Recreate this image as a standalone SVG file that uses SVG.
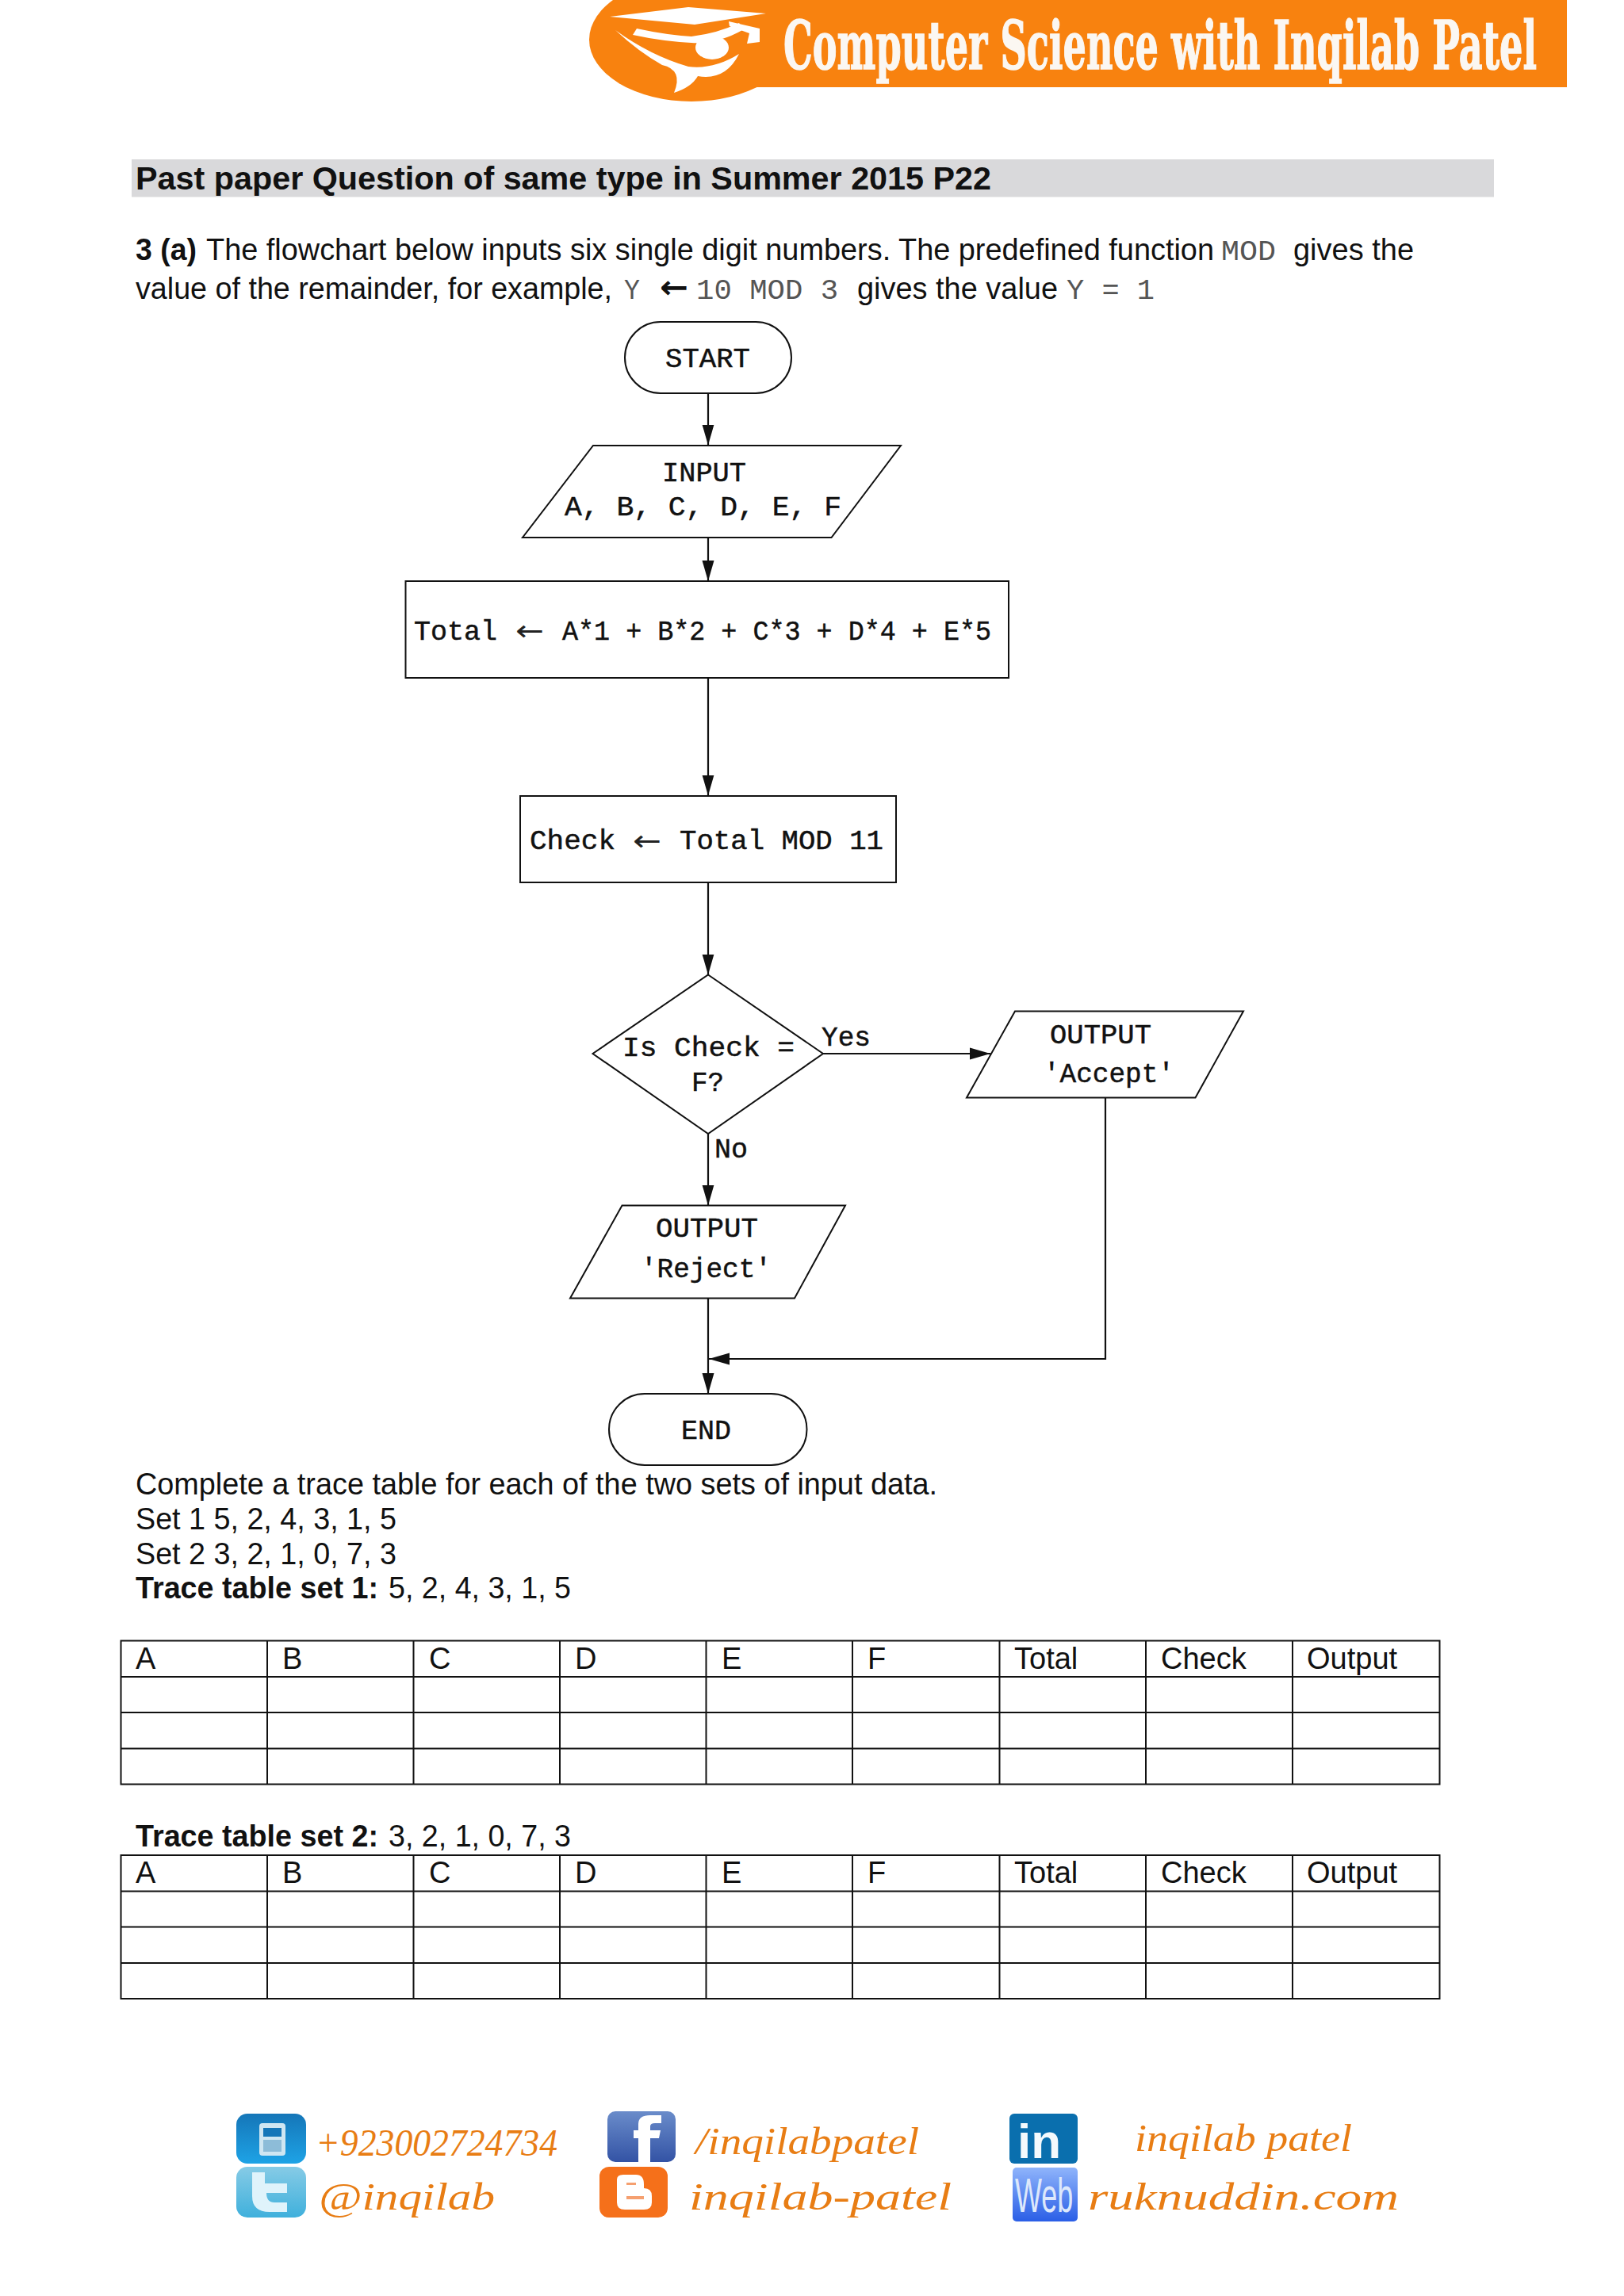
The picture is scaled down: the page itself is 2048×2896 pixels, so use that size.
<svg xmlns="http://www.w3.org/2000/svg" width="2048" height="2896" viewBox="0 0 2048 2896">
<style>
.s{font-family:"Liberation Sans",Arial,sans-serif;font-size:38px;fill:#111}
.b{font-weight:bold}
.m{font-family:"Liberation Mono","Courier New",monospace;font-size:35.5px;fill:#111;stroke:#111;stroke-width:.5}
.a{font-family:"DejaVu Sans",sans-serif;font-size:36px;fill:#222}
.c{font-family:"Liberation Mono","Courier New",monospace;font-size:36px;fill:#555}
.o{fill:#fff;stroke:#111;stroke-width:2}
.l{fill:none;stroke:#111;stroke-width:2.2}
.g{fill:none;stroke:#111;stroke-width:2}
.f{font-family:"Liberation Serif","Times New Roman",serif;font-style:italic;font-size:48px;fill:#e87d14}
</style>
<defs>
<marker id="ah" markerUnits="userSpaceOnUse" markerWidth="27" markerHeight="16" refX="26" refY="8" orient="auto"><path d="M0 0.5L26 8L0 15.500z" fill="#111"/></marker>
<linearGradient id="gb" x1="0" y1="0" x2="0" y2="1"><stop offset="0" stop-color="#1576b8"/><stop offset="1" stop-color="#1ea3e6"/></linearGradient>
<linearGradient id="gt" x1="0" y1="0" x2="0" y2="1"><stop offset="0" stop-color="#86cbe6"/><stop offset="1" stop-color="#3fb0dc"/></linearGradient>
<linearGradient id="gf" x1="0" y1="0" x2="0" y2="1"><stop offset="0" stop-color="#6a8cca"/><stop offset="1" stop-color="#3353a5"/></linearGradient>
<linearGradient id="gw" x1="0" y1="0" x2="0" y2="1"><stop offset="0" stop-color="#8fb4fb"/><stop offset="1" stop-color="#2a5ee6"/></linearGradient>
</defs>
<rect width="2048" height="2896" fill="#fff"/>
<g id="banner">
<ellipse cx="872" cy="50" rx="129" ry="78" fill="#f8820f"/>
<rect x="860" y="0" width="1116" height="110" fill="#f8820f"/>
<path d="M769 21L868 9L966 17L876 31z" fill="#fff"/>
<path d="M919 27L958 36L958 53L942 55L945 42L920 33z" fill="#fff"/>
<path d="M803 36Q840 44 872 46Q905 42 932 29L938 37Q905 56 872 54Q835 52 798 44z" fill="#fff"/>
<ellipse cx="898" cy="60" rx="21" ry="15" fill="#fff"/>
<path d="M776 38Q820 70 868 84Q900 88 932 68Q915 102 880 96Q872 110 850 117Q862 88 835 82Q805 65 776 38z" fill="#fff"/>
<text transform="translate(988 87) scale(.5 1)" x="0" y="0" font-family="DejaVu Serif,serif" font-weight="bold" font-size="84" fill="#fbf7f2" stroke="#fbf7f2" stroke-width="1.500" textLength="1900" lengthAdjust="spacingAndGlyphs">Computer Science with Inqilab Patel</text>
</g>
<g id="intro">
<rect x="166" y="201" width="1718" height="47.500" fill="#d9d9db"/>
<text class="s b" x="171" y="239" style="font-size:41px" textLength="1079" lengthAdjust="spacingAndGlyphs">Past paper Question of same type in Summer 2015 P22</text>
<text class="s b" x="171" y="328" textLength="77" lengthAdjust="spacingAndGlyphs">3 (a)</text>
<text class="s" x="260" y="328" textLength="1271" lengthAdjust="spacingAndGlyphs">The flowchart below inputs six single digit numbers. The predefined function</text>
<text class="c" x="1540" y="328" textLength="69" lengthAdjust="spacingAndGlyphs">MOD</text>
<text class="s" x="1631" y="328" textLength="152" lengthAdjust="spacingAndGlyphs">gives the</text>
<text class="s" x="171" y="377" textLength="601" lengthAdjust="spacingAndGlyphs">value of the remainder, for example,</text>
<text class="c" x="787" y="377" textLength="20" lengthAdjust="spacingAndGlyphs">Y</text>
<text x="832" y="376" font-family="DejaVu Sans,sans-serif" font-weight="bold" font-size="40" fill="#111" textLength="36" lengthAdjust="spacingAndGlyphs">←</text>
<text class="c" x="878" y="377" textLength="179" lengthAdjust="spacingAndGlyphs">10 MOD 3</text>
<text class="s" x="1081" y="377" textLength="253" lengthAdjust="spacingAndGlyphs">gives the value</text>
<text class="c" x="1345" y="377" textLength="111" lengthAdjust="spacingAndGlyphs">Y = 1</text>
</g>
<g id="connectors">
<path class="l" d="M893 496V561.500" marker-end="url(#ah)"/>
<path class="l" d="M893 678V733" marker-end="url(#ah)"/>
<path class="l" d="M893 855V1003.500" marker-end="url(#ah)"/>
<path class="l" d="M893 1113V1229.500" marker-end="url(#ah)"/>
<path class="l" d="M893 1430V1520.500" marker-end="url(#ah)"/>
<path class="l" d="M1038 1329H1249" marker-end="url(#ah)"/>
<path class="l" d="M893 1637.500V1758" marker-end="url(#ah)"/>
<path class="l" d="M1394 1384.500V1714H894" marker-end="url(#ah)"/>
</g>
<g id="start"><rect class="o" x="788" y="406" width="210" height="90" rx="45" ry="45"/><text class="m" x="839" y="463" textLength="107" lengthAdjust="spacingAndGlyphs">START</text></g>
<g id="input"><path class="o" d="M748 562H1136L1048.500 678H659z"/><text class="m" x="835" y="607" textLength="106" lengthAdjust="spacingAndGlyphs">INPUT</text><text class="m" x="712" y="650" textLength="349" lengthAdjust="spacingAndGlyphs">A, B, C, D, E, F</text></g>
<g id="total"><rect class="o" x="511.500" y="733" width="760.500" height="122"/><text class="m" x="522" y="807" textLength="105" lengthAdjust="spacingAndGlyphs">Total</text><text class="a" x="650" y="808" textLength="36" lengthAdjust="spacingAndGlyphs">←</text><text class="m" x="709" y="807" textLength="541" lengthAdjust="spacingAndGlyphs">A*1 + B*2 + C*3 + D*4 + E*5</text></g>
<g id="check"><rect class="o" x="656" y="1004" width="474" height="109"/><text class="m" x="668" y="1071" textLength="108" lengthAdjust="spacingAndGlyphs">Check</text><text class="a" x="798" y="1073" textLength="36" lengthAdjust="spacingAndGlyphs">←</text><text class="m" x="857" y="1071" textLength="257" lengthAdjust="spacingAndGlyphs">Total MOD 11</text></g>
<g id="decision"><path class="o" d="M893 1229.500L1038 1329L893 1430L747.500 1329z"/><text class="m" x="785" y="1332" textLength="217" lengthAdjust="spacingAndGlyphs">Is Check =</text><text class="m" x="872" y="1376" textLength="41" lengthAdjust="spacingAndGlyphs">F?</text></g>
<g id="label-yes"><text class="m" x="1036" y="1319" textLength="62" lengthAdjust="spacingAndGlyphs">Yes</text></g>
<g id="label-no"><text class="m" x="901" y="1460" textLength="42" lengthAdjust="spacingAndGlyphs">No</text></g>
<g id="accept"><path class="o" d="M1280 1275.500H1568L1507.500 1384.500H1219z"/><text class="m" x="1324" y="1316" textLength="128" lengthAdjust="spacingAndGlyphs">OUTPUT</text><text class="m" x="1316" y="1365" textLength="165" lengthAdjust="spacingAndGlyphs">'Accept'</text></g>
<g id="reject"><path class="o" d="M784.500 1520.500H1066L1002 1637.500H719z"/><text class="m" x="827" y="1560" textLength="129" lengthAdjust="spacingAndGlyphs">OUTPUT</text><text class="m" x="808" y="1611" textLength="165" lengthAdjust="spacingAndGlyphs">'Reject'</text></g>
<g id="end"><rect class="o" x="768" y="1758" width="249.500" height="90" rx="45" ry="45"/><text class="m" x="859" y="1815" textLength="63" lengthAdjust="spacingAndGlyphs">END</text></g>
<g id="instructions">
<text class="s" x="171" y="1885" textLength="1011" lengthAdjust="spacingAndGlyphs">Complete a trace table for each of the two sets of input data.</text>
<text class="s" x="171" y="1929" textLength="329" lengthAdjust="spacingAndGlyphs">Set 1 5, 2, 4, 3, 1, 5</text>
<text class="s" x="171" y="1973" textLength="329" lengthAdjust="spacingAndGlyphs">Set 2 3, 2, 1, 0, 7, 3</text>
<text class="s b" x="171" y="2016" textLength="306" lengthAdjust="spacingAndGlyphs">Trace table set 1:</text>
<text class="s" x="490" y="2016" textLength="230" lengthAdjust="spacingAndGlyphs">5, 2, 4, 3, 1, 5</text>
<text class="s b" x="171" y="2329" textLength="306" lengthAdjust="spacingAndGlyphs">Trace table set 2:</text>
<text class="s" x="490" y="2329" textLength="230" lengthAdjust="spacingAndGlyphs">3, 2, 1, 0, 7, 3</text>
</g>
<g id="table1">
<path class="g" d="M152.500 2069.500H1815.500V2250.500H152.500zM152.500 2115H1815.500M152.500 2160H1815.500M152.500 2205.500H1815.500M337 2069.500V2250.500M521.500 2069.500V2250.500M706 2069.500V2250.500M890.500 2069.500V2250.500M1075 2069.500V2250.500M1260.500 2069.500V2250.500M1445 2069.500V2250.500M1630 2069.500V2250.500"/>
<text class="s" x="171" y="2105">A</text><text class="s" x="356" y="2105">B</text><text class="s" x="541" y="2105">C</text><text class="s" x="725" y="2105">D</text><text class="s" x="910" y="2105">E</text><text class="s" x="1094" y="2105">F</text><text class="s" x="1279" y="2105">Total</text><text class="s" x="1464" y="2105">Check</text><text class="s" x="1648" y="2105">Output</text>
</g>
<g id="table2">
<path class="g" d="M152.500 2340H1815.500V2521H152.500zM152.500 2385.500H1815.500M152.500 2430.500H1815.500M152.500 2476H1815.500M337 2340V2521M521.500 2340V2521M706 2340V2521M890.500 2340V2521M1075 2340V2521M1260.500 2340V2521M1445 2340V2521M1630 2340V2521"/>
<text class="s" x="171" y="2375">A</text><text class="s" x="356" y="2375">B</text><text class="s" x="541" y="2375">C</text><text class="s" x="725" y="2375">D</text><text class="s" x="910" y="2375">E</text><text class="s" x="1094" y="2375">F</text><text class="s" x="1279" y="2375">Total</text><text class="s" x="1464" y="2375">Check</text><text class="s" x="1648" y="2375">Output</text>
</g>
<g id="footer">
<rect x="298" y="2666" width="88" height="63" rx="14" fill="url(#gb)"/>
<rect x="327" y="2678" width="33" height="41" rx="4" fill="#cfe6f2"/><rect x="332" y="2684" width="23" height="11" fill="#1576b8"/><rect x="332" y="2699" width="23" height="15" fill="#8dbcd8"/>
<rect x="298" y="2733" width="88" height="64" rx="14" fill="url(#gt)"/>
<path d="M318 2740H334V2754H362V2766H336Q336 2778 346 2778H362V2790H340Q318 2790 318 2770z" fill="#dff3fb"/>
<rect x="766" y="2663" width="86" height="64" rx="10" fill="url(#gf)"/>
<path d="M805 2727V2697H799V2687H805V2679Q805 2668 820 2668H834V2678H826Q820 2678 820 2682V2687H833L831 2697H820V2727z" fill="#fff"/>
<rect x="756" y="2733" width="86" height="64" rx="12" fill="#f5701a"/>
<path d="M778 2749Q778 2743 786 2743H802Q812 2743 812 2755V2760Q822 2760 822 2770V2778Q822 2787 812 2787H788Q778 2787 778 2778z" fill="#fff"/><rect x="790" y="2753" width="12" height="3" fill="#f5a070"/><rect x="790" y="2770" width="22" height="4" fill="#f5a070"/>
<rect x="1273" y="2666" width="86" height="63" rx="6" fill="#0a6fae"/>
<text x="1283" y="2722" font-family="Liberation Sans,sans-serif" font-weight="bold" font-size="62" fill="#f4fafd">in</text>
<rect x="1277" y="2734" width="82" height="68" rx="5" fill="url(#gw)"/>
<text transform="translate(1280 2790) scale(1 1.700)" font-family="Liberation Sans,sans-serif" font-size="36" fill="#dde8fb">Web</text>
<text class="f" x="398" y="2719" textLength="305" lengthAdjust="spacingAndGlyphs">+923002724734</text>
<text class="f" x="402" y="2787" textLength="222" lengthAdjust="spacingAndGlyphs">@inqilab</text>
<text class="f" x="877" y="2717" textLength="282" lengthAdjust="spacingAndGlyphs">/inqilabpatel</text>
<text class="f" x="869" y="2787" textLength="331" lengthAdjust="spacingAndGlyphs">inqilab-patel</text>
<text class="f" x="1431" y="2713" textLength="274" lengthAdjust="spacingAndGlyphs">inqilab patel</text>
<text class="f" x="1372" y="2787" textLength="392" lengthAdjust="spacingAndGlyphs">ruknuddin.com</text>
</g>
</svg>
